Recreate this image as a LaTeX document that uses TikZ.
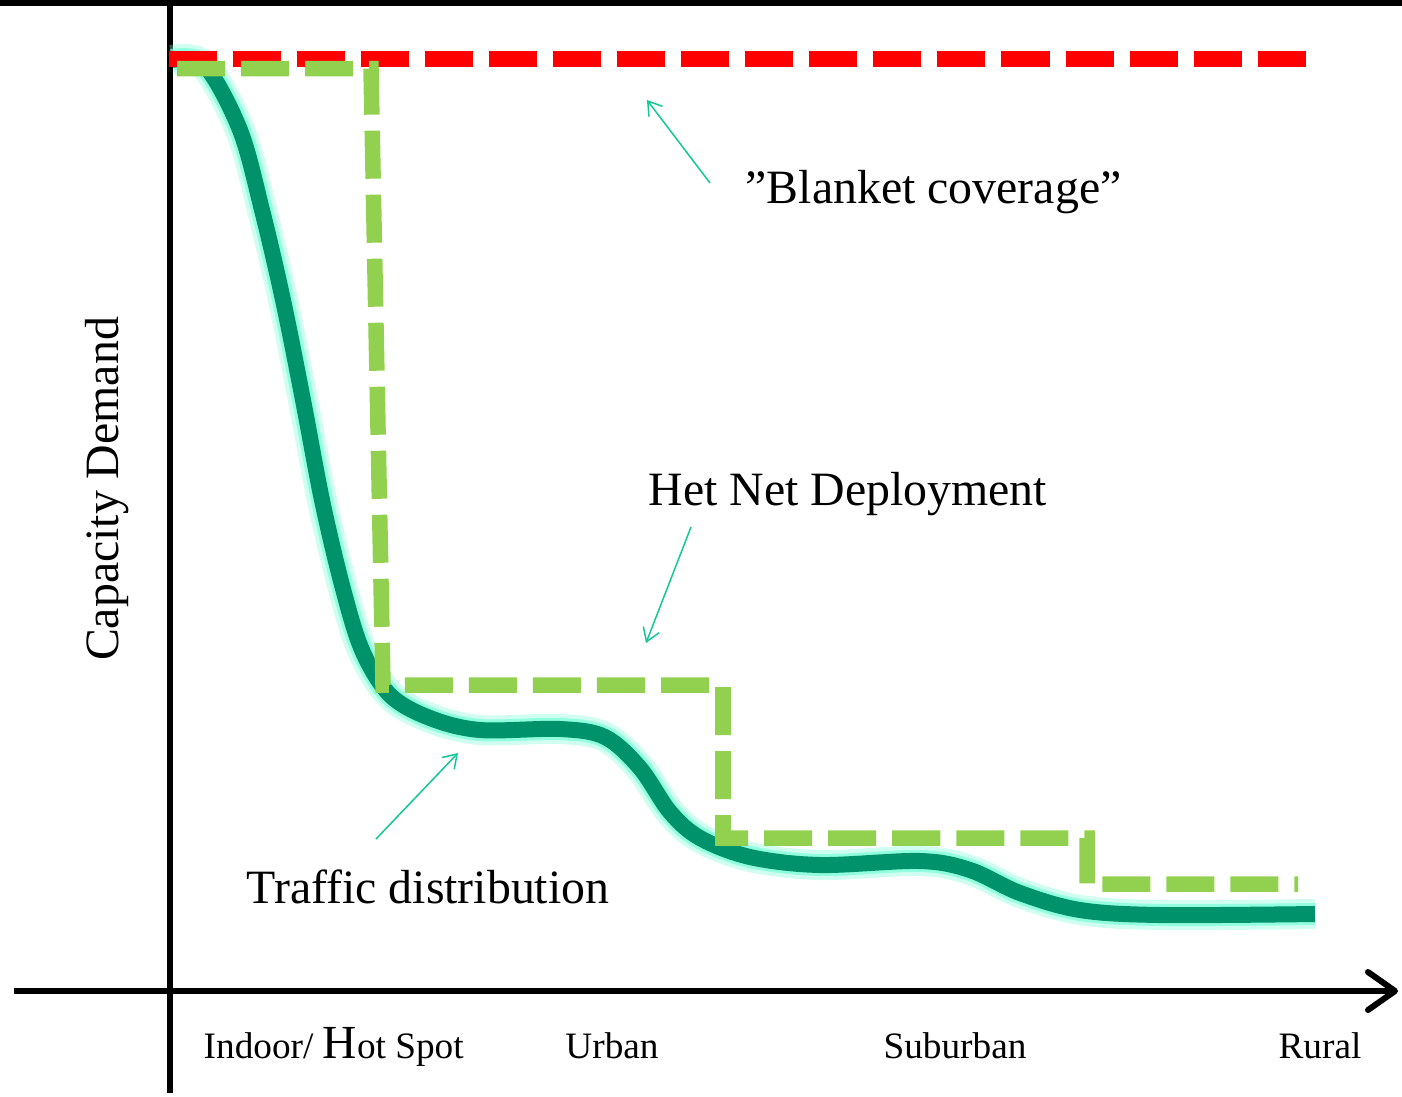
\documentclass[tikz,border=0pt]{standalone}
\usepackage{fontspec}
\setmainfont{Liberation Serif}
\usetikzlibrary{arrows.meta}

\definecolor{curvegreen}{RGB}{0,146,106}
\definecolor{glowcyan}{RGB}{120,255,215}
\definecolor{stepgreen}{RGB}{146,208,80}
\definecolor{callout}{RGB}{20,200,150}

\begin{document}
\begin{tikzpicture}[
      x=0.01cm, y=-0.01cm,
      axis/.style={line width=0.06cm, black},
      dashline/.style={line width=0.155cm, dash pattern=on 0.48cm off 0.16cm},
      lbl/.style={font=\fontsize{13.6}{16}\selectfont, inner sep=0pt},
      tick/.style={font=\fontsize{10.6}{13}\selectfont, inner sep=0pt, anchor=base},
      arr/.style={-{Straight Barb[length=0.13cm, width=0.17cm]}, line width=0.015cm, callout}
    ]
      \useasboundingbox (0,0) rectangle (1402,1096);
      \fill[black] (0,0) rectangle (1402,6);

      % axes
      \coordinate (ytop) at (170,5);
      \coordinate (ybot) at (170,1093);
      \coordinate (xleft) at (14,991);
      \coordinate (xright) at (1398,991);
      \draw[axis] (ytop) -- (ybot);
      \draw[axis, -{Straight Barb[length=0.27cm, width=0.38cm, round]}] (xleft) -- (xright);

      % traffic curve with glow
      \def\trafficpath{plot[smooth, tension=0.55] coordinates {(172,60) (205,66) (240,130) (262,210) (283,300) (303,400) (322,500) (342,585) (362,650) (390,695) (430,718) (480,730) (560,729) (605,737) (640,768) (670,812) (700,838) (750,857) (820,865) (920,861) (970,870) (1020,893) (1080,910) (1160,915) (1315,914)}}
      \draw[glowcyan, opacity=0.35, line width=0.3cm] \trafficpath;
      \draw[glowcyan, opacity=0.7, line width=0.22cm] \trafficpath;
      \draw[curvegreen, line width=0.16cm] \trafficpath;

      % blanket coverage
      \coordinate (b0) at (169,59);
      \coordinate (b1) at (1306,59);
      \draw[dashline, red] (b0) -- (b1);

      % het net steps
      \coordinate (h0) at (177,68.5);
      \coordinate (h1) at (371,68.5);
      \coordinate (h2) at (383,685);
      \coordinate (h3) at (723,685);
      \coordinate (h4) at (723,838);
      \coordinate (h5) at (1087,838);
      \coordinate (h6) at (1087,884);
      \coordinate (h7) at (1298,884);
      \draw[dashline, stepgreen] (h0) -- (h1) -- (h2) -- (h3) -- (h4) -- (h5) -- (h6) -- (h7);

      % labels
      \node[lbl, anchor=base west] (blanket) at (745,203) {”Blanket coverage”};
      \node[lbl, anchor=base west] (hetnet) at (648,505) {Het Net Deployment};
      \node[lbl, anchor=base west] (traffic) at (246,903) {Traffic distribution};
      \node[lbl, rotate=90, anchor=base] (ylabel) at (118,489) {Capacity Demand};

      \node[tick, anchor=base west] (indoor) at (203,1058) {Indoor/ {\fontsize{13.5}{16}\selectfont H}ot Spot};
      \node[tick] (urban) at (612,1058) {Urban};
      \node[tick] (suburban) at (955,1058) {Suburban};
      \node[tick] (rural) at (1320,1058) {Rural};

      % callouts
      \coordinate (bfrom) at (710,183);
      \coordinate (bto) at (647,100);
      \coordinate (hfrom) at (691,527);
      \coordinate (hto) at (646,643);
      \coordinate (tfrom) at (376,839);
      \coordinate (tto) at (458,753);
      \draw[arr] (bfrom) -- (bto);
      \draw[arr] (hfrom) -- (hto);
      \draw[arr] (tfrom) -- (tto);
    \end{tikzpicture}
\end{document}
